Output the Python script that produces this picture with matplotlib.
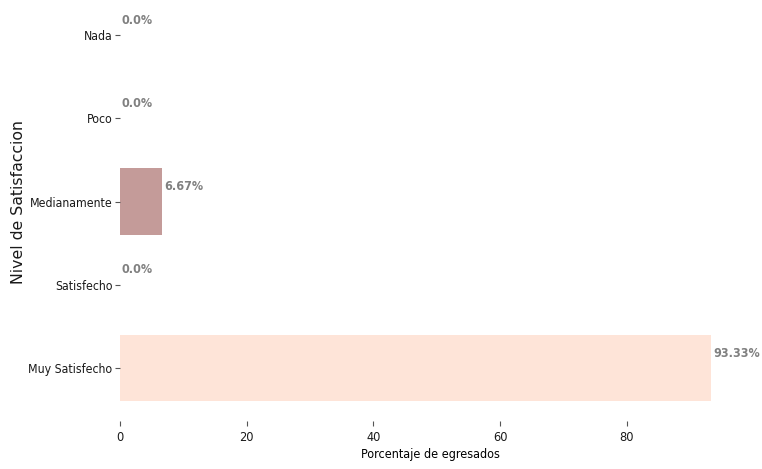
import matplotlib
matplotlib.use("Agg")
import matplotlib.pyplot as plt

# datos
niveles = ["Nada", "Poco", "Medianamente", "Satisfecho", "Muy Satisfecho"]
porcentajes = [0.0, 0.0, 6.67, 0.0, 93.33]
colores = ["#c49b99", "#c49b99", "#c49b99", "#c49b99", "#fee4d8"]
etiquetas = ["0.0%", "0.0%", "6.67%", "0.0%", "93.33%"]
xticks = [0, 20, 40, 60, 80]


def main():
    # texto estrecho, como en la figura original
    cond = dict(family="DejaVu Sans", stretch="condensed")

    fig = plt.figure(figsize=(7.62, 4.69), dpi=100)
    ax = fig.add_axes([0.1575, 0.1017, 0.815, 0.937])

    pos = list(range(len(niveles)))
    ax.barh(pos, porcentajes, height=0.8, color=colores)
    ax.set_ylim(4.64, -0.64)
    ax.set_xlim(0, 98.0)

    for i, (v, lab) in enumerate(zip(porcentajes, etiquetas)):
        ax.text(v + 0.3, i - 0.18, lab, va="center", ha="left",
                color="#808080", fontweight="bold", fontsize=9, **cond)

    ax.set_yticks(pos)
    ax.set_yticklabels(niveles, fontsize=8.8, **cond)
    ax.set_xticks(xticks)
    ax.set_xticklabels([str(t) for t in xticks], fontsize=9.2, **cond)
    ax.tick_params(axis="both", colors="#555555", labelcolor="#1a1a1a", length=3.5, width=0.8)
    ax.tick_params(axis="y", pad=2)

    ax.set_xlabel("Porcentaje de egresados", fontsize=9, labelpad=3, **cond)
    ax.set_ylabel("Nivel de Satisfaccion", family="DejaVu Sans", fontsize=11.3, color="#1a1a1a")
    ax.yaxis.set_label_coords(-0.152, 0.5)

    for s in ax.spines.values():
        s.set_visible(False)

    fig.savefig("out.png", dpi=100)


if __name__ == "__main__":
    main()
